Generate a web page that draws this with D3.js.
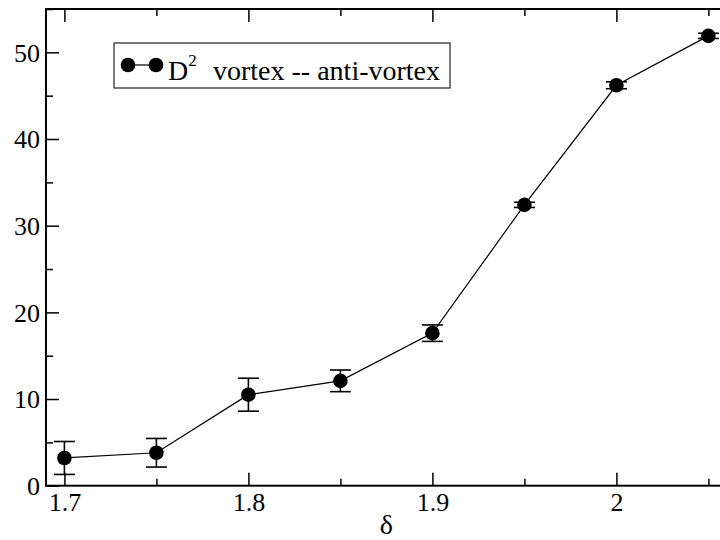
<!DOCTYPE html>
<html>
<head>
<meta charset="utf-8">
<script src="https://cdn.jsdelivr.net/npm/d3@7"></script>
</head>
<body style="margin:0;background:#fff">
<svg id="chart" width="720" height="540" style="display:block"></svg>
<script>
// separation parameter delta and the squared vortex / anti-vortex distance
const deltas = [1.7, 1.75, 1.8, 1.85, 1.9, 1.95, 2.0, 2.05];
const d2Values = [3.2, 3.8, 10.5, 12.1, 17.6, 32.4, 46.2, 51.9];
const d2Errors = [1.9, 1.65, 1.9, 1.25, 0.95, 0.3, 0.4, 0.3];

const xMajorTicks = [1.7, 1.8, 1.9, 2.0];
const xMinorTicks = [1.75, 1.85, 1.95, 2.05];
const yMajorTicks = [0, 10, 20, 30, 40, 50];
const yMinorTicks = [5, 15, 25, 35, 45, 55];

const xLabel = "δ";
const legendName = "vortex -- anti-vortex";

const FONT = '"Liberation Serif", "Times New Roman", Times, serif';

const svg = d3.select("#chart");

const x = d3.scaleLinear().domain([1.69, 2.07]).range([46, 745.2]);
const y = d3.scaleLinear().domain([0, 55]).range([485.7, 9]);

const frameL = x.range()[0], frameR = x.range()[1];
const frameT = y.range()[1], frameB = y.range()[0];

const fmtX = d => (d === 2 ? "2" : d3.format(".1f")(d));

// frame
svg.append("rect")
  .attr("x", frameL).attr("y", frameT)
  .attr("width", frameR - frameL).attr("height", frameB - frameT)
  .attr("fill", "none").attr("stroke", "#000").attr("stroke-width", 2);

function styleAxis(g) {
  g.select(".domain").remove();
  g.selectAll(".tick line").attr("stroke", "#000").attr("stroke-width", 1.5);
  g.selectAll("text")
    .style("font-family", FONT).style("font-size", "26px").attr("fill", "#000");
}

// bottom axis: major ticks with labels, minor ticks, all pointing inward
svg.append("g").attr("transform", `translate(0,${frameB})`)
  .call(d3.axisBottom(x).tickValues(xMajorTicks).tickFormat(fmtX).tickSizeInner(-13))
  .call(styleAxis)
  .call(g => g.selectAll("text").attr("y", 7).attr("dy", "0.71em"));
svg.append("g").attr("transform", `translate(0,${frameB})`)
  .call(d3.axisBottom(x).tickValues(xMinorTicks).tickFormat("").tickSizeInner(-7))
  .call(styleAxis);

// top axis ticks
svg.append("g").attr("transform", `translate(0,${frameT})`)
  .call(d3.axisTop(x).tickValues(xMajorTicks).tickFormat("").tickSizeInner(-13))
  .call(styleAxis);
svg.append("g").attr("transform", `translate(0,${frameT})`)
  .call(d3.axisTop(x).tickValues(xMinorTicks).tickFormat("").tickSizeInner(-7))
  .call(styleAxis);

// left axis
svg.append("g").attr("transform", `translate(${frameL},0)`)
  .call(d3.axisLeft(y).tickValues(yMajorTicks).tickFormat(d3.format("d")).tickSizeInner(-13))
  .call(styleAxis)
  .call(g => g.selectAll("text").attr("x", -6).attr("dy", "0.34em"));
svg.append("g").attr("transform", `translate(${frameL},0)`)
  .call(d3.axisLeft(y).tickValues(yMinorTicks).tickFormat("").tickSizeInner(-7))
  .call(styleAxis);

// x axis title
svg.append("text")
  .attr("x", x(1.875)).attr("y", 534)
  .attr("text-anchor", "middle")
  .style("font-family", FONT).style("font-size", "28px")
  .text(xLabel);

const data = deltas.map((d, i) => ({ x: d, y: d2Values[i], e: d2Errors[i] }));

const plot = svg.append("g");

// connecting line
plot.append("path")
  .datum(data)
  .attr("fill", "none").attr("stroke", "#000").attr("stroke-width", 1.2)
  .attr("d", d3.line().x(d => x(d.x)).y(d => y(d.y)));

// error bars
const capHalf = 10.5;
const eb = plot.selectAll("g.err").data(data).join("g").attr("class", "err")
  .attr("stroke", "#000").attr("stroke-width", 1.6);
eb.append("line")
  .attr("x1", d => x(d.x)).attr("x2", d => x(d.x))
  .attr("y1", d => y(d.y + d.e)).attr("y2", d => y(d.y - d.e));
eb.append("line")
  .attr("x1", d => x(d.x) - capHalf).attr("x2", d => x(d.x) + capHalf)
  .attr("y1", d => y(d.y + d.e)).attr("y2", d => y(d.y + d.e));
eb.append("line")
  .attr("x1", d => x(d.x) - capHalf).attr("x2", d => x(d.x) + capHalf)
  .attr("y1", d => y(d.y - d.e)).attr("y2", d => y(d.y - d.e));

// markers
plot.selectAll("circle.pt").data(data).join("circle").attr("class", "pt")
  .attr("cx", d => x(d.x)).attr("cy", d => y(d.y)).attr("r", 7.3)
  .attr("fill", "#000");

// legend
const lg = svg.append("g");
lg.append("rect")
  .attr("x", 114).attr("y", 43).attr("width", 336).attr("height", 45)
  .attr("fill", "#fff").attr("stroke", "#333").attr("stroke-width", 1.3);
lg.append("line").attr("x1", 128).attr("x2", 156).attr("y1", 65).attr("y2", 65)
  .attr("stroke", "#000").attr("stroke-width", 1.2);
lg.selectAll("circle").data([128, 156]).join("circle")
  .attr("cx", d => d).attr("cy", 65).attr("r", 7.3).attr("fill", "#000");
const lt = lg.append("text").attr("x", 168).attr("y", 80)
  .style("font-family", FONT).style("font-size", "28px");
lt.append("tspan").text("D");
lt.append("tspan").style("font-size", "17px").attr("dy", -14).text("2");
lt.append("tspan").attr("dy", 14).attr("x", 213).text(legendName);
</script>
</body>
</html>
